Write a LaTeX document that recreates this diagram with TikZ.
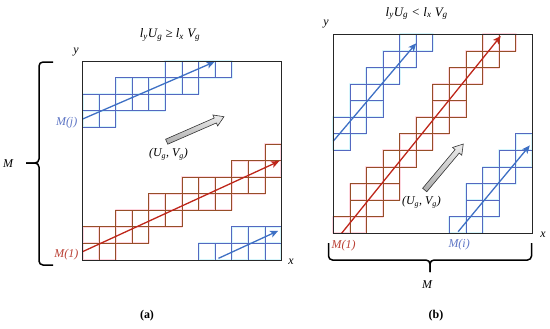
\documentclass[tikz,border=0pt]{standalone}
\usepackage{fontspec}
\setmainfont{Liberation Serif}
\usetikzlibrary{arrows.meta}
\definecolor{cellred}{RGB}{150,78,40}
\definecolor{glowred}{RGB}{255,214,224}
\definecolor{cellblue}{RGB}{84,104,192}
\definecolor{glowblue}{RGB}{214,246,252}
\definecolor{flowred}{RGB}{190,38,26}
\definecolor{flowblue}{RGB}{62,112,196}
\definecolor{labred}{RGB}{186,62,50}
\definecolor{labblue}{RGB}{92,116,196}
\newcommand{\sbs}[1]{\textsubscript{#1}}
\newcommand{\cellrun}[3]{%
  \foreach \ca/\cb/\ra/\rb in {#3}{\foreach \i in {\ca,...,\cb}{\foreach \j in {\ra,...,\rb}{\draw[#1] (\i,\j) rectangle ++(1,1);}}}%
  \foreach \ca/\cb/\ra/\rb in {#3}{\foreach \i in {\ca,...,\cb}{\foreach \j in {\ra,...,\rb}{\draw[#2] (\i,\j) rectangle ++(1,1);}}}}
\begin{document}
\begin{tikzpicture}[x=1bp,y=-1bp,
  redglow/.style={glowred,line width=2bp,line join=round},
  redline/.style={cellred,line width=0.7bp},
  blueglow/.style={glowblue,line width=2bp,line join=round},
  blueline/.style={cellblue,line width=0.7bp},
  flow/.style={line width=1.3bp,-{Stealth[length=8bp,width=7bp,inset=2bp]}},
  frame/.style={draw=black!85,line width=0.8bp},
  lab/.style={font=\fontsize{12}{14}\selectfont\itshape,inner sep=1bp},
  title/.style={font=\fontsize{13}{15}\selectfont\itshape,inner sep=1bp},
  brace/.style={line width=1.5bp,rounded corners=4bp},
  hollow/.style={draw=black!80,line width=0.6bp,top color=gray!15,bottom color=gray!65}]
\useasboundingbox (0,0) rectangle (550,328);
\begin{scope}[shift={(82.5,260)},x=16.58bp,y=16.58bp]
\cellrun{redglow}{redline}{0/1/0/1,2/3/1/2,4/5/2/3,6/8/3/4,9/10/4/5,11/11/5/6}
\cellrun{blueglow}{blueline}{0/1/8/9,2/4/9/10,5/6/10/11,7/8/11/11,7/8/0/0,9/11/0/1}
\coordinate (ras) at (0,0.5);
\coordinate (rae) at (11.86,5.96);
\coordinate (bjs) at (0,8.5);
\coordinate (bje) at (7.96,11.95);
\coordinate (bas) at (8.2,0.1);
\coordinate (bae) at (11.8,1.76);
\draw[flow,flowred] (ras) -- (rae);
\draw[flow,flowblue] (bjs) -- (bje);
\draw[flow,flowblue] (bas) -- (bae);
\draw[frame] (0,0) rectangle (12,12);
\node[lab,text=labblue,anchor=east] (mj) at ([xshift=-4bp,yshift=-4bp]bjs) {M(j)};
\node[lab,text=labred,anchor=east] (m1a) at ([xshift=-3bp,yshift=-2.5bp]ras) {M(1)};
\end{scope}
\begin{scope}[shift={(333.3,233.3)},x=16.58bp,y=16.58bp]
\cellrun{redglow}{redline}{0/1/0/0,1/2/1/1,1/3/2/2,2/3/3/3,3/4/4/4,4/5/5/5,5/6/6/6,6/7/7/8,7/8/9/9,8/9/10/10,9/10/11/11}
\cellrun{blueglow}{blueline}{0/0/5/5,0/1/6/6,1/2/7/8,2/3/9/9,3/4/10/10,4/5/11/11,7/8/0/0,8/9/1/2,9/10/3/3,10/11/4/4,11/11/5/5}
\coordinate (rbs) at (0.5,0);
\coordinate (rbe) at (10.1,11.9);
\coordinate (bts) at (0,5.56);
\coordinate (bte) at (5,11.46);
\coordinate (bis) at (7.53,0.1);
\coordinate (bie) at (11.85,5.3);
\draw[flow,flowred] (rbs) -- (rbe);
\draw[flow,flowblue] (bts) -- (bte);
\draw[flow,flowblue] (bis) -- (bie);
\draw[frame] (0,0) rectangle (12,12);
\node[lab,text=labred,anchor=north] (m1b) at ([xshift=2bp,yshift=-6bp]rbs) {M(1)};
\node[lab,text=labblue,anchor=north] (mi) at ([xshift=1bp,yshift=-6bp]bis) {M(i)};
\end{scope}
\begin{scope}[shift={(166.7,141.7)},rotate=23.6]
\draw[hollow] (0,2.7) -- (53,2.7) -- (53,6) -- (62.5,0) -- (53,-6) -- (53,-2.7) -- (0,-2.7) -- cycle;
\end{scope}
\begin{scope}[shift={(424.7,190)},rotate=50]
\draw[hollow] (0,2.7) -- (50.5,2.7) -- (50.5,6) -- (60,0) -- (50.5,-6) -- (50.5,-2.7) -- (0,-2.7) -- cycle;
\end{scope}
\node[lab] (uva) at (168.5,154) {(U\sbs{g}, V\sbs{g})};
\node[lab] (uvb) at (421.5,202) {(U\sbs{g}, V\sbs{g})};
\node[title] (ta) at (170,35) {l\sbs{y}U\sbs{g} ≥ l\sbs{x} V\sbs{g}};
\node[title] (tb) at (416.7,13.5) {l\sbs{y}U\sbs{g} < l\sbs{x} V\sbs{g}};
\node[lab] (ya) at (76,52) {y};
\node[lab] (xa) at (291,262) {x};
\node[lab] (yb) at (326,24) {y};
\node[lab] (xb) at (543,235) {x};
\draw[brace] (53,62) -- (39,62) -- (39,163) -- (26,163);
\draw[brace] (26,163) -- (39,163) -- (39,265) -- (53,265);
\node[lab] (ma) at (8,164) {M};
\draw[brace] (328.5,243) -- (328.5,260) -- (430,260) -- (430,272);
\draw[brace] (430,272) -- (430,260) -- (531.5,260) -- (531.5,243);
\node[lab] (mb) at (427,285) {M};
\node[font=\fontsize{12}{14}\selectfont\bfseries] (capa) at (147,316) {(a)};
\node[font=\fontsize{12}{14}\selectfont\bfseries] (capb) at (436,316) {(b)};
\end{tikzpicture}
\end{document}
